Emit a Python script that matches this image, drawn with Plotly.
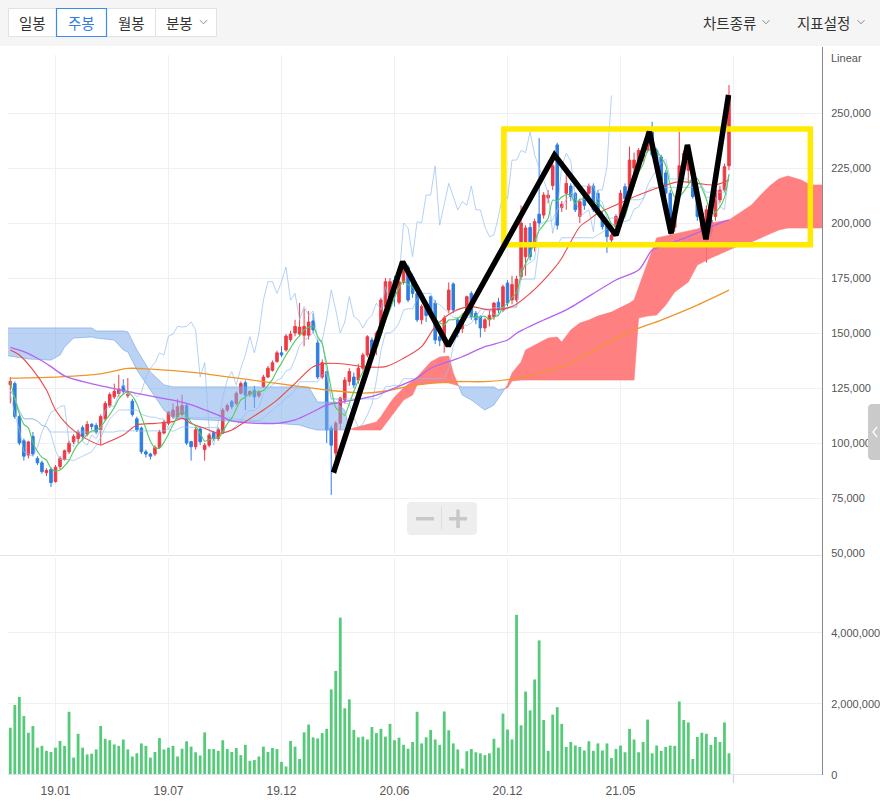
import numpy as np
import pandas as pd
import plotly.graph_objects as go

W, H = 880, 807          # design coordinates (reference picture)
FIG_H = 813              # rendered height (the capture squeezes height by ~0.9926)

# ---------------- data ----------------
tick_idx = [10, 35, 60, 85, 110, 135, 160]
tick_labels = ["19.01", "19.07", "19.12", "20.06", "20.12", "21.05", ""]

# weekly OHLC (thousand KRW)
opens = [126.5, 127, 112, 101, 94.5, 103, 93, 91, 86.5, 88,
         82.5, 89.3, 92.5, 96, 100.5, 102, 107, 104, 108.5, 108,
         106, 111, 117, 121, 122.5, 126, 121.5, 119, 111, 106.8,
         96, 95, 95, 98, 104.5, 109, 112, 112, 113, 117,
         100.6, 98.3, 106.4, 97, 99, 104.7, 102, 104.5, 115, 118.8,
         118, 122.6, 127.4, 122, 124, 121.5, 125.6, 130, 133, 137,
         141, 142.3, 147, 150, 149.5, 149, 149, 155.5, 145.5, 130,
         132.4, 106.8, 95.4, 109, 119.5, 128, 130, 128.6, 134, 140,
         146.8, 143.8, 150, 162, 165, 174, 164, 173, 180, 175.6,
         168, 156, 163, 166.5, 163.6, 148.3, 146.8, 160.5, 172.3, 156,
         152, 160.5, 168, 159, 157.4, 152.3, 156, 157.4, 164, 160.5,
         172.7, 165, 165, 175.6, 184.7, 198, 189, 204, 203.6, 211.4,
         217, 235.5, 207, 213.5, 216.8, 213.5, 203, 212, 213.5, 216.8,
         213.5, 203.6, 198.6, 192.3, 198.3, 203, 216.5, 215, 225, 227.9,
         230, 233, 241.5, 233, 230, 222.7, 213.5, 198, 216.5, 225.6,
         224, 222.7, 212, 196.8, 193.8, 201.4, 203, 210.5, 215, 226]
highs = [130, 128, 113, 102, 101, 105, 94, 92, 88.5, 89,
         90, 94, 97, 101, 104, 106, 108, 110, 109, 109,
         113, 119, 123, 127, 131, 129, 129.5, 120, 112, 107.5,
         97, 95.5, 99, 106, 110.5, 114.5, 118, 120, 122, 118,
         101, 107, 107, 100, 104.5, 105.5, 107, 116, 118, 119.5,
         123.5, 128, 128.5, 124, 126, 124, 131, 135, 137.5, 142,
         144, 149.5, 151, 156, 163.7, 161, 160, 159, 147, 138,
         133, 108, 110, 121, 130, 134, 132, 136, 141, 149,
         148, 151, 166, 175, 175, 176, 175, 182, 181, 177,
         169, 163, 164, 167, 165, 149, 158, 173, 173, 157,
         159, 167, 169, 160, 158, 157, 160, 164, 166, 172,
         174, 176, 176, 208, 199, 200, 202, 238.6, 214, 215,
         228, 236.5, 210, 222, 218, 214, 211, 215, 218, 218,
         215, 205, 200, 196, 204, 215, 218, 234.7, 232, 234,
         236, 243, 246, 234, 231, 224, 215, 207, 241.5, 233,
         230, 224, 213, 206, 208, 203, 216, 217, 227, 262.7]
lows = [118, 111, 99, 92, 93, 94, 90, 86, 85, 80,
        82, 88, 92, 95, 99.5, 100, 102, 103, 106, 104,
        99, 110, 116, 120, 121, 122, 120.5, 112, 105, 95,
        93.4, 92.5, 94, 97.5, 104, 108, 111, 111, 112, 99,
        92, 97, 99, 92, 98, 101, 101, 104, 114, 115.5,
        117, 122, 115, 121, 116, 120.5, 125, 129.5, 132.5, 136.5,
        139, 141.5, 146, 148.5, 148.5, 144, 147, 150, 129, 129,
        100, 76.4, 86, 106, 118, 126, 125, 127, 133, 139,
        140, 140, 149, 161, 163, 162, 163, 172, 164, 166,
        155, 154, 155, 158, 145, 144, 141, 159, 159, 148,
        150, 159, 156, 154, 148, 150.5, 153, 156, 159, 159.5,
        162, 163, 164, 174, 176, 183, 187, 198, 202, 209,
        215, 197, 205, 206, 210, 205, 200, 206, 212, 205,
        205, 197, 186.4, 191, 196, 202, 209, 214, 222, 226,
        228, 232, 230, 224, 218, 212, 194, 196, 215, 224,
        218, 211, 201, 195, 182, 194, 201, 209, 214, 224]
closes = [128, 112, 100, 94, 100.5, 95, 91, 87, 87.5, 82,
          89, 93, 96.5, 100, 103, 105, 103, 108.5, 107.5, 105,
          112, 118, 122, 123.5, 124.5, 123.5, 122.3, 113, 106, 96,
          95, 94, 98, 105, 109.5, 114, 115, 116.5, 117, 100,
          98.3, 106, 100.6, 99, 103.6, 102, 106, 115, 117, 116.5,
          122.6, 127, 121.8, 123.4, 121, 123, 130, 134, 136.5, 141,
          140, 148.6, 149.5, 153, 152.7, 153, 155, 151.4, 130, 136.5,
          106, 99, 109, 120.5, 128.6, 132.5, 126.4, 134, 140, 148.3,
          141, 150, 165, 173.3, 173.3, 168, 173.3, 180, 165, 168,
          156, 162, 158, 160, 146.8, 146.5, 156.8, 169.5, 160.5, 150,
          155, 166.5, 157.4, 156, 152.3, 156, 158, 163.6, 160.5, 171,
          163.6, 172, 174.5, 200, 197.7, 184.7, 200.6, 200, 212.7, 212.7,
          226, 199, 208.5, 218, 212, 206, 209.7, 208, 216.8, 206,
          206, 198.3, 193.8, 194.5, 203, 213.5, 211, 228.6, 228.6, 233,
          232, 241.5, 231, 225.6, 219.5, 213.6, 195.3, 205, 226, 231.7,
          228, 212, 203, 204.5, 206, 196, 215, 215, 225.6, 258]

# weekly volume (thousand shares)
volume_k = [1330, 1970, 2200, 1660, 1190, 1380, 770, 820, 680, 650,
            770, 960, 820, 1780, 490, 1160, 770, 580, 600, 720,
            1380, 1020, 980, 860, 820, 1000, 720, 520, 610, 890,
            820, 490, 650, 1040, 720, 770, 820, 520, 740, 950,
            800, 640, 550, 1200, 730, 730, 680, 980, 730, 650,
            760, 560, 850, 400, 420, 520, 800, 650, 760, 730,
            370, 240, 960, 800, 450, 1200, 1420, 1060, 1030, 1180,
            1300, 2410, 2930, 4430, 1880, 2130, 1270, 1060, 1080, 1000,
            1350, 1180, 1300, 1080, 1440, 980, 1050, 850, 740, 930,
            1780, 890, 1060, 1270, 1000, 850,
            1790, 1260, 890, 720, 180, 670, 730, 640, 610, 560,
            610, 1020, 770, 1730, 1280, 1000, 4510, 1400, 2350, 1820,
            2690, 3790, 1550, 680, 1700, 1910, 1440, 790, 930, 830,
            790, 690, 950, 680, 890, 690, 890, 480, 730, 830,
            640, 1300, 1000, 640, 930, 1560, 610, 830, 680, 790,
            830, 820, 2070, 1550, 1480, 450, 1070, 1190, 1160, 850,
            1070, 930, 1480, 610]

# moving averages (thousand KRW)
ma20_idx = [0, 2, 5, 8, 10, 13, 16, 20, 21, 25, 28, 32, 36, 38, 40, 43, 46, 49, 52, 56,
            59, 63, 67, 70, 74, 78, 83, 87, 91, 94, 98, 102, 106, 111, 115, 120, 122, 123,
            126, 128, 130, 134, 139, 143, 148, 152, 156, 159]
ma20_val = [142.3, 140.0, 133.2, 124.1, 115.0, 107.4, 102.9, 99.1, 99.9, 103.6, 108.2, 108.9,
            109.7, 111.2, 108.9, 106.7, 104.4, 105.9, 109.7, 115.0, 119.5, 127.1, 134.7, 136.2,
            135.9, 134.7, 134.7, 138.5, 143.8, 152.9, 159.7, 162.0, 160.5, 162.0, 168.0, 178.6,
            184.0, 187.7, 198.3, 201.4, 204.4, 208.2, 212.7, 215.8, 218.8, 218.0, 217.3, 219.5]
ma60_idx = [0, 3, 6, 9, 12, 17, 21, 25, 28, 32, 36, 39, 42, 46, 49, 55, 59, 63, 67, 70, 74,
            78, 81, 85, 90, 93, 98, 100, 105, 110, 112, 118, 123, 134, 139, 142, 144, 150, 157, 159]
ma60_val = [143.5, 141.5, 138.5, 134.7, 130.5, 127.4, 125.6, 123.8, 122.6, 121.0, 119.5, 118.0,
            115.9, 112.7, 110.1, 108.9, 108.9, 110.5, 114.2, 117.3, 118.8, 120.3, 121.8, 125.0,
            129.5, 134.0, 137.7, 139.2, 143.8, 146.8, 149.9, 155.9, 160.5, 174.1, 178.6, 187.7,
            189.2, 193.8, 199.9, 201.4]
ma120_idx = [0, 11, 20, 26, 31, 41, 48, 56, 63, 70, 78, 82, 90, 98, 105, 112, 117, 123, 130,
             138, 144, 152, 159]
ma120_val = [129.5, 130.1, 131.4, 133.9, 133.6, 132.0, 130.1, 127.9, 126.0, 124.1, 122.7, 123.3,
             126.4, 127.9, 127.9, 129.4, 131.8, 135.5, 143.2, 151.4, 155.9, 162.7, 169.5]

# Ichimoku cloud (leading spans, thousand KRW)
cloud_idx = [-1, 4, 9, 11, 12, 14, 18, 19, 23, 25, 26, 28, 31, 34, 36, 43, 55, 64, 66, 68,
             72, 74, 75, 76, 81, 82, 84, 85, 87, 89, 90, 93, 95, 97, 98, 100, 102, 105, 107,
             108, 110, 111, 113, 114, 117, 119, 121, 122, 124, 126, 128, 130, 133, 135, 137,
             138, 139, 141, 143, 145, 147, 150, 152, 155, 159, 161, 164, 166, 168, 170, 172,
             175, 177, 182]
span_a = [139.8, 138.2, 137.7, 140.0, 143.6, 147.7, 148.2, 147.7, 146.8, 142.3, 141.4, 133.2,
          124.1, 115.0, 111.4, 110.5, 109.5, 108.2, 106.8, 105.9, 105.9, 105.9, 106.0, 106.8,
          109.5, 112.0, 118.2, 120.9, 125.0, 128.6, 130.0, 136.8, 139.1, 139.5, 131.8, 121.8,
          119.5, 115.0, 117.3, 120.5, 126.4, 131.8, 136.8, 142.3, 145.5, 147.7, 148.2, 145.9,
          151.4, 154.5, 155.9, 157.7, 159.5, 161.4, 163.6, 165.0, 171.0, 182.0, 193.2, 194.1,
          195.0, 196.4, 197.3, 200.0, 201.4, 204.1, 208.2, 212.7, 216.8, 220.0, 221.4, 219.5,
          217.3, 217.3]
span_b = [152.3, 152.3, 152.3, 152.3, 152.3, 152.3, 152.3, 150.9, 150.9, 150.9, 150.5, 142.3,
          132.3, 126.4, 125.5, 125.5, 125.5, 125.5, 125.5, 118.6, 118.6, 115.0, 106.6, 105.9,
          105.9, 105.9, 111.0, 114.0, 119.5, 121.8, 126.4, 127.3, 127.3, 127.3, 126.8, 125.5,
          125.5, 125.5, 125.5, 124.1, 125.0, 128.2, 128.6, 128.6, 128.6, 128.6, 128.6, 128.6,
          128.6, 128.6, 128.6, 128.6, 128.6, 128.6, 128.6, 128.6, 156.8, 157.7, 158.2, 162.7,
          168.6, 173.2, 180.9, 184.1, 187.7, 189.5, 191.4, 193.2, 195.0, 196.8, 197.7, 197.7,
          197.7, 197.7]

# hand-drawn annotations (index, thousand KRW)
zig_idx = [71.5, 86.8, 96.9, 120.4, 134.0, 141.4, 146.2, 149.8, 153.9, 158.9]
zig_price = [86.5, 182.4, 144.1, 230.9, 194.5, 241.5, 195.3, 235.5, 192.6, 258.2]
box_idx = [109.2, 177.0]
box_price = [190.1, 242.7]

# ---------------- styles ----------------
RED = "#EE3A44"
BLUE = "#2F7DE1"
GREEN_VOL = "#55CA78"
FONT_NUM = "Liberation Sans, Arial, sans-serif"
FONT_KR = "Noto Sans CJK KR, sans-serif"

K = 1000.0
idx = np.arange(len(closes))
o = np.array(opens) * K
h = np.array(highs) * K
l = np.array(lows) * K
c = np.array(closes) * K
vol = np.array(volume_k) * K

hs = pd.Series(h)
ls = pd.Series(l)
cs = pd.Series(c)
ma5 = cs.rolling(5, min_periods=1).mean()
tenkan = (hs.rolling(9, min_periods=1).max() + ls.rolling(9, min_periods=1).min()) / 2
kijun = (hs.rolling(26, min_periods=1).max() + ls.rolling(26, min_periods=1).min()) / 2

fig = go.Figure()

# cloud polygons split by sign
ci = np.array(cloud_idx, float)
ca = np.array(span_a) * K
cb = np.array(span_b) * K
segs = []
cur = {"x": [ci[0]], "a": [ca[0]], "b": [cb[0]], "s": np.sign(ca[0] - cb[0])}
for k in range(1, len(ci)):
    s = np.sign(ca[k] - cb[k])
    if s != cur["s"]:
        d0 = ca[k - 1] - cb[k - 1]
        d1 = ca[k] - cb[k]
        t = d0 / (d0 - d1)
        xc = ci[k - 1] + t * (ci[k] - ci[k - 1])
        yc = ca[k - 1] + t * (ca[k] - ca[k - 1])
        cur["x"].append(xc); cur["a"].append(yc); cur["b"].append(yc)
        segs.append(cur)
        cur = {"x": [xc], "a": [yc], "b": [yc], "s": s}
    cur["x"].append(ci[k]); cur["a"].append(ca[k]); cur["b"].append(cb[k])
segs.append(cur)
for sg in segs:
    px_ = sg["x"] + sg["x"][::-1]
    py_ = sg["a"] + sg["b"][::-1]
    if sg["s"] > 0:
        fig.add_trace(go.Scatter(x=px_, y=py_, mode="lines", fill="toself",
                                 fillcolor="rgba(255,110,110,0.88)",
                                 line=dict(color="rgba(255,120,120,0.9)", width=0.6),
                                 hoverinfo="skip"))
    else:
        fig.add_trace(go.Scatter(x=px_, y=py_, mode="lines", fill="toself",
                                 fillcolor="rgba(130,175,235,0.55)",
                                 line=dict(color="rgba(120,165,230,0.8)", width=0.8),
                                 hoverinfo="skip"))

LB = "rgba(150,190,240,0.7)"
fig.add_trace(go.Scatter(x=idx[26:] - 26, y=c[26:], mode="lines", line=dict(color=LB, width=1)))
fig.add_trace(go.Scatter(x=idx, y=tenkan, mode="lines", line=dict(color=LB, width=1)))
fig.add_trace(go.Scatter(x=idx, y=kijun, mode="lines", line=dict(color=LB, width=1)))

fig.add_trace(go.Scatter(x=ma120_idx, y=np.array(ma120_val) * K, mode="lines",
                         line=dict(color="#F0952B", width=1.3, shape="spline", smoothing=0.8)))
fig.add_trace(go.Scatter(x=ma60_idx, y=np.array(ma60_val) * K, mode="lines",
                         line=dict(color="#B463F2", width=1.3, shape="spline", smoothing=0.8)))

fig.add_trace(go.Candlestick(x=idx, open=o, high=h, low=l, close=c, whiskerwidth=0,
                             increasing=dict(line=dict(color=RED, width=1), fillcolor=RED),
                             decreasing=dict(line=dict(color=BLUE, width=1), fillcolor=BLUE),
                             xaxis="x", yaxis="y"))

fig.add_trace(go.Scatter(x=ma20_idx, y=np.array(ma20_val) * K, mode="lines",
                         line=dict(color="#EB4848", width=1.1, shape="spline", smoothing=0.8)))
fig.add_trace(go.Scatter(x=idx, y=ma5, mode="lines",
                         line=dict(color="#4FCB5E", width=1.1, shape="spline", smoothing=0.6)))

# annotation marks
bx = [box_idx[0], box_idx[1], box_idx[1], box_idx[0], box_idx[0]]
by = [box_price[0] * K, box_price[0] * K, box_price[1] * K, box_price[1] * K, box_price[0] * K]
fig.add_trace(go.Scatter(x=bx, y=by, mode="lines", line=dict(color="#FFEA00", width=5.5)))
fig.add_trace(go.Scatter(x=zig_idx, y=np.array(zig_price) * K, mode="lines",
                         line=dict(color="#000000", width=5.5)))

# volume
fig.add_trace(go.Bar(x=idx, y=vol, marker=dict(color=GREEN_VOL, line=dict(width=0)),
                     width=0.62, xaxis="x2", yaxis="y2"))

# ---------------- layout ----------------
def X(p):
    return p / W

def Y(p):
    return 1 - p / H

x_range = [-0.51, 179.8]
xdom = [X(8), X(823)]
GRID = "#EEF0F4"

fig.update_layout(
    width=W, height=FIG_H, autosize=False, margin=dict(l=0, r=0, t=0, b=0),
    paper_bgcolor="white", plot_bgcolor="white", showlegend=False,
    boxgap=0.2, hovermode=False,
    xaxis=dict(domain=xdom, range=x_range, anchor="y", tickvals=tick_idx, showticklabels=False,
               showgrid=True, gridcolor=GRID, zeroline=False, rangeslider=dict(visible=False),
               fixedrange=True),
    xaxis2=dict(domain=xdom, range=x_range, anchor="y2", tickvals=tick_idx, ticktext=tick_labels,
                showgrid=True, gridcolor=GRID, zeroline=False, ticks="outside", ticklen=5,
                tickcolor="rgba(0,0,0,0)", tickfont=dict(family=FONT_NUM, size=12, color="#555")),
    yaxis=dict(domain=[Y(553), Y(55)], range=[50000, 276364], side="right", anchor="x",
               tickvals=[50000 + 25000 * k for k in range(9)], tickformat=",",
               showgrid=True, gridcolor=GRID, zeroline=False, ticks="outside", ticklen=5,
               tickcolor="rgba(0,0,0,0)", tickfont=dict(family=FONT_NUM, size=11, color="#555")),
    yaxis2=dict(domain=[Y(775), Y(558)], range=[0, 6.11e6], side="right", anchor="x2",
                tickvals=[0, 2e6, 4e6], tickformat=",",
                showgrid=True, gridcolor=GRID, zeroline=False, ticks="outside", ticklen=5,
                tickcolor="rgba(0,0,0,0)", tickfont=dict(family=FONT_NUM, size=11, color="#555")),
)

shapes = []
ann = []

def rect(x0, y0, x1, y1, fill, line=None, lw=1.0):
    shapes.append(dict(type="rect", xref="paper", yref="paper", x0=X(x0), x1=X(x1),
                       y0=Y(y0), y1=Y(y1), fillcolor=fill, layer="above",
                       line=dict(color=line if line else "rgba(0,0,0,0)", width=lw if line else 0)))

def pline(pts, color, width=1.0, fill=None, close=False):
    d = "M " + " L ".join(f"{X(a):.5f},{Y(b):.5f}" for a, b in pts)
    if close:
        d += " Z"
    shapes.append(dict(type="path", xref="paper", yref="paper", path=d, layer="above",
                       fillcolor=fill if fill else "rgba(0,0,0,0)",
                       line=dict(color=color, width=width)))

def text(x, y, s, size=14.5, color="#333", anchor="center", family=FONT_KR):
    ann.append(dict(x=X(x), y=Y(y), xref="paper", yref="paper", text=s, showarrow=False,
                    xanchor=anchor, yanchor="middle", font=dict(family=family, size=size, color=color)))

def chevron(cx, cy, color="#888"):
    pline([(cx - 3.5, cy - 1.8), (cx, cy + 1.8), (cx + 3.5, cy - 1.8)], color, 1.0)

def rrect(x0, y0, x1, y1, r, fill):
    pts = []
    n = 5
    corners = [(x1 - r, y0 + r, -90, 0), (x1 - r, y1 - r, 0, 90), (x0 + r, y1 - r, 90, 180), (x0 + r, y0 + r, 180, 270)]
    for cx, cy, a0, a1 in corners:
        for t in np.linspace(a0, a1, n):
            pts.append((cx + r * np.cos(np.radians(t)), cy + r * np.sin(np.radians(t))))
    pline(pts, "rgba(0,0,0,0)", 0, fill=fill, close=True)

# toolbar
rect(0, 0, 880, 46, "#F5F5F5")
rect(8.5, 8.5, 216.5, 36.5, "white", "#E2E2E2", 1)
for xv in [56.5, 155.5]:
    pline([(xv, 8.5), (xv, 36.5)], "#E2E2E2", 1)
rect(56.5, 8.5, 106.5, 36.5, "white", "#3A8BEA", 1.2)
text(32.5, 22.5, "일봉")
text(81.5, 22.5, "주봉", color="#2F7DE1")
text(131, 22.5, "월봉")
text(179.5, 22.5, "분봉")
chevron(203.5, 22)
text(729.5, 22.5, "차트종류")
chevron(766, 22)
text(823.5, 22.5, "지표설정")
chevron(861, 22)

# frame lines
pline([(0, 555.5), (822.5, 555.5)], "#E3E3E3", 1)
pline([(8, 774.5), (822.5, 774.5)], "#DCE1EC", 1.2)
pline([(822.5, 47), (822.5, 775)], "#8A8A8A", 1)
pline([(733.5, 775), (733.5, 783)], "#C9D2E3", 1.2)
text(829, 58.5, "Linear", size=11, color="#555", anchor="left", family=FONT_NUM)

# zoom buttons
rrect(407, 502, 477, 535, 4, "#EEEEEE")
pline([(441.5, 507), (441.5, 530)], "#DDDDDD", 1)
rect(416, 517, 434, 520.5, "#C8C8C8")
rect(449, 517, 467, 520.5, "#C8C8C8")
rect(456.3, 509.5, 459.8, 528, "#C8C8C8")

# right side tab
rrect(868, 404, 886, 460, 4, "#CACACA")
pline([(877, 427), (873, 432), (877, 437)], "white", 1.3)

fig.update_layout(shapes=shapes, annotations=ann)
post = (
    "document.documentElement.style.margin='0';"
    "document.body.style.margin='0';"
    "document.body.style.padding='0';"
    "document.body.style.overflow='hidden';"
)
fig.write_html("out.html",
               config={"displayModeBar": False, "responsive": False, "staticPlot": True},
               default_width="880px", default_height="%dpx" % FIG_H,
               post_script=post)
